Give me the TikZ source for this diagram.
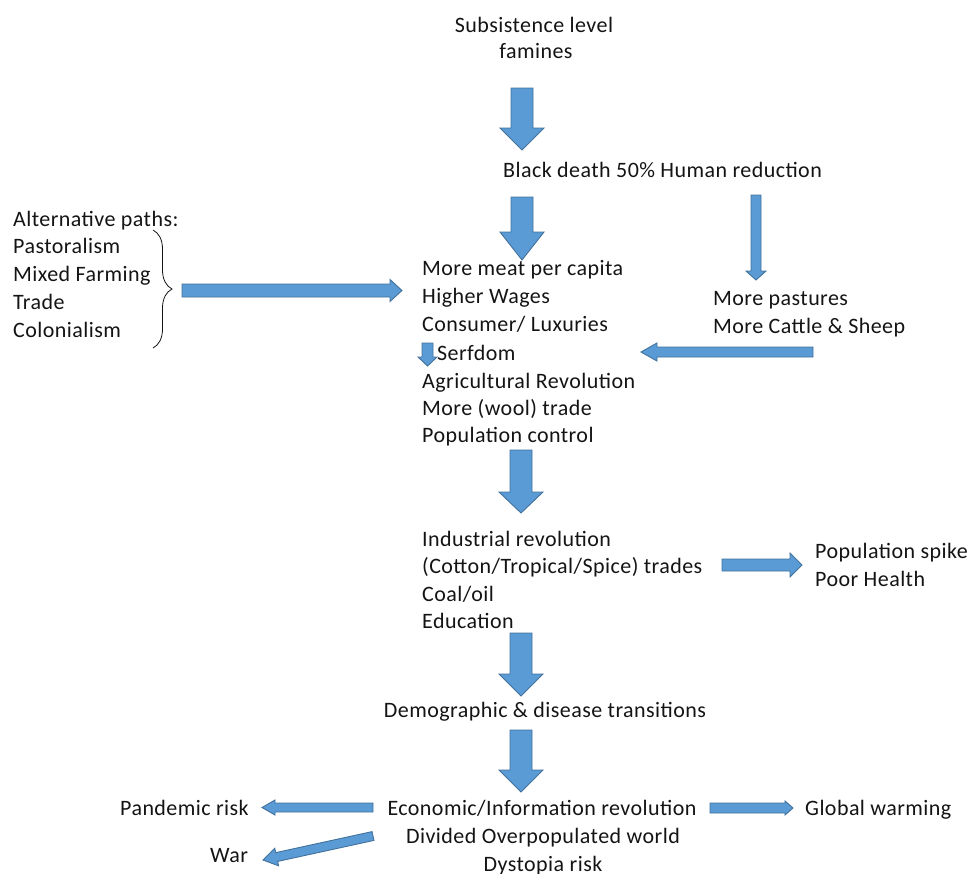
\documentclass[tikz,border=0pt]{standalone}
\usepackage{fontspec}
\setmainfont{Carlito}[LetterSpace=2]
\usetikzlibrary{calc,decorations.pathreplacing}
\definecolor{afill}{RGB}{91,155,213}
\definecolor{aline}{RGB}{65,113,156}
\definecolor{txtc}{RGB}{20,20,20}
\tikzset{
  txt/.style={inner sep=0pt, anchor=base west, font=\fontsize{22}{27.7}\selectfont, text=txtc},
  ctxt/.style={txt, anchor=base},
  blockarrow/.style={fill=afill, draw=aline, line width=0.9pt, line join=miter}
}
% #1 tail, #2 tip, #3 shaft half width, #4 head half width, #5 head length
\newcommand\barrow[5]{%
  \path (#1) coordinate (bt) (#2) coordinate (bh);
  \path ($(bh)!#5!(bt)$) coordinate (bb);
  \draw[blockarrow] ($(bt)!#3!90:(bh)$) -- ($(bb)!#3!-90:(bt)$) -- ($(bb)!#4!-90:(bt)$)
     -- (bh) -- ($(bb)!#4!90:(bt)$) -- ($(bb)!#3!90:(bt)$) -- ($(bt)!#3!-90:(bh)$) -- cycle;
}
\begin{document}
\begin{tikzpicture}[x=1pt,y=-1pt]
\useasboundingbox (0,0) rectangle (971,873);

% texts
\node[ctxt] (sub1) at (534,32) {Subsistence level};
\node[ctxt] (sub2) at (536,58) {famines};
\node[txt] (black) at (503,177) {Black death 50\% Human reduction};

\node[txt] (alt0) at (13,226) {Alternative paths:};
\node[txt] (alt1) at (13,253) {Pastoralism};
\node[txt] (alt2) at (13,281) {Mixed Farming};
\node[txt] (alt3) at (13,309) {Trade};
\node[txt] (alt4) at (13,337) {Colonialism};

\node[txt] (m1) at (422,275) {More meat per capita};
\node[txt] (m2) at (422,303) {Higher Wages};
\node[txt] (m3) at (422,331) {Consumer/ Luxuries};
\node[txt] (m4) at (437,360) {Serfdom};
\node[txt] (m5) at (422,388) {Agricultural Revolution};
\node[txt] (m6) at (422,415) {More (wool) trade};
\node[txt] (m7) at (422,442) {Population control};

\node[txt] (p1) at (713,305) {More pastures};
\node[txt] (p2) at (713,333) {More Cattle \& Sheep};

\node[txt] (i1) at (422,546) {Industrial revolution};
\node[txt] (i2) at (422,573.5) {(Cotton/Tropical/Spice) trades};
\node[txt] (i3) at (422,601) {Coal/oil};
\node[txt] (i4) at (422,628.5) {Education};

\node[txt] (s1) at (815,558) {Population spike};
\node[txt] (s2) at (815,586) {Poor Health};

\node[ctxt] (demo) at (545,717) {Demographic \& disease transitions};

\node[ctxt] (e1) at (542,815) {Economic/Information revolution};
\node[ctxt] (e2) at (543,843) {Divided Overpopulated world};
\node[ctxt] (e3) at (543,871) {Dystopia risk};

\node[txt] (pand) at (120,815) {Pandemic risk};
\node[txt] (war) at (210,862) {War};
\node[txt] (glob) at (805,815) {Global warming};

% brace
\draw[txtc, line width=0.8pt, decorate, decoration={brace, amplitude=19pt}] (153,230) -- (153,348);

% block arrows
\barrow{522,88}{522,150}{11pt}{22pt}{22pt}
\barrow{522,197}{522,260}{11pt}{22pt}{28pt}
\barrow{756,195}{756,280}{5pt}{10pt}{9pt}
\barrow{182,290.5}{402,290.5}{6.5pt}{11pt}{12pt}
\barrow{813,352}{641,352}{5pt}{9pt}{16pt}
\barrow{427.5,343}{427.5,366}{5.5pt}{9.5pt}{9pt}
\barrow{521,450}{521,513}{11pt}{22pt}{21pt}
\barrow{722,565}{802,565}{6pt}{12pt}{12pt}
\barrow{521,633}{521,696}{11pt}{22pt}{22pt}
\barrow{521,730}{521,792}{11pt}{22pt}{22pt}
\barrow{373,807.5}{262,807.5}{4.5pt}{7.5pt}{13pt}
\barrow{373,836}{263,860}{4.5pt}{9pt}{14pt}
\barrow{710,808}{793,808}{5pt}{7pt}{8pt}
\end{tikzpicture}
\end{document}
